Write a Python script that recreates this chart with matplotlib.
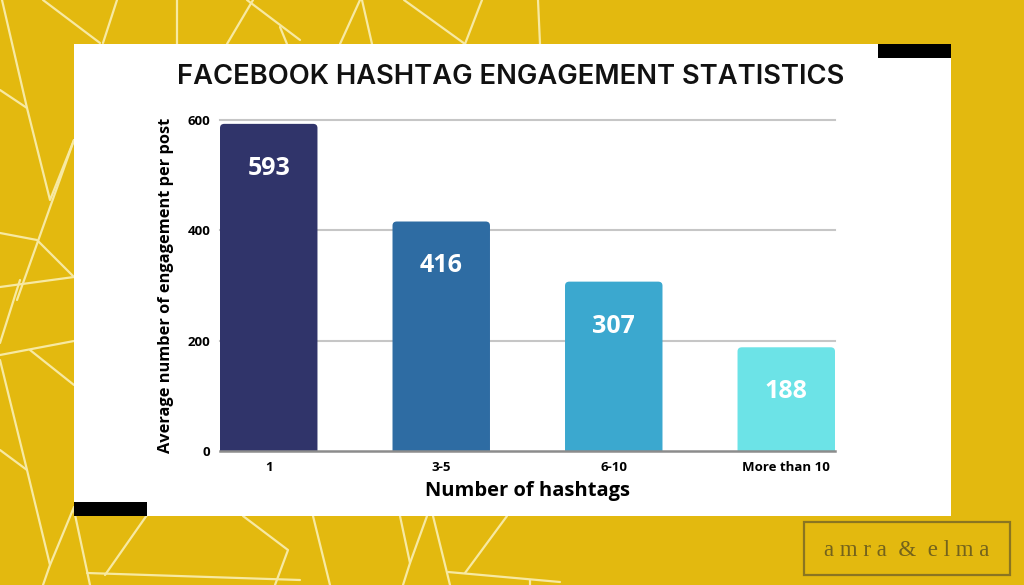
import matplotlib
matplotlib.use("Agg")
import matplotlib.pyplot as plt
from matplotlib.patches import Rectangle, FancyBboxPatch

# data
categories = ["1", "3-5", "6-10", "More than 10"]
engagement = [593, 416, 307, 188]
bar_colors = ["#30346a", "#2e6ca3", "#3ba8cf", "#6ce3e7"]
y_ticks = [0, 200, 400, 600]

title = "FACEBOOK HASHTAG ENGAGEMENT STATISTICS"
xlabel = "Number of hashtags"
ylabel = "Average number of engagement per post"

yellow = "#e3b90f"
line_col = "#f7e9a2"

# decorative background lines (pixel coords of the canvas)
bg_lines = [
    [(2, 0), (27, 108), (50, 200), (74, 140)],
    [(0, 90), (27, 108)],
    [(43, 0), (100, 43)],
    [(117, 0), (103, 43)],
    [(177, 0), (177, 44)],
    [(253, 0), (227, 44)],
    [(247, 0), (300, 40)],
    [(280, 27), (287, 44)],
    [(340, 44), (360, 0)],
    [(372, 44), (362, 0)],
    [(404, 0), (465, 44)],
    [(482, 0), (465, 44)],
    [(538, 0), (540, 44)],
    [(74, 140), (17, 300)],
    [(0, 233), (37, 240), (74, 277)],
    [(0, 287), (74, 277)],
    [(20, 280), (0, 343)],
    [(0, 355), (74, 341)],
    [(30, 350), (74, 385)],
    [(0, 360), (27, 470), (50, 565), (43, 585)],
    [(0, 450), (27, 470)],
    [(74, 507), (50, 565)],
    [(74, 510), (90, 585)],
    [(147, 515), (105, 575)],
    [(87, 573), (300, 580)],
    [(243, 516), (288, 550), (275, 585)],
    [(313, 516), (330, 585)],
    [(400, 516), (410, 563), (403, 585)],
    [(427, 516), (410, 563)],
    [(433, 516), (450, 585)],
    [(507, 516), (465, 573)],
    [(448, 572), (560, 582)],
    [(530, 580), (530, 585)],
]

fig = plt.figure(figsize=(10.24, 5.85), dpi=100)
fig.patch.set_facecolor(yellow)

bg = fig.add_axes([0, 0, 1, 1])
bg.set_xlim(0, 1024)
bg.set_ylim(585, 0)
bg.axis("off")
for seg in bg_lines:
    xs = [p[0] for p in seg]
    ys = [p[1] for p in seg]
    bg.plot(xs, ys, color=line_col, lw=1.6, solid_capstyle="round")

# white card and black accents
bg.add_patch(Rectangle((74, 44), 877, 472, facecolor="white", edgecolor="none", zorder=3))
bg.add_patch(Rectangle((878, 44), 73, 14, facecolor="black", edgecolor="none", zorder=4))
bg.add_patch(Rectangle((74, 502), 73, 14, facecolor="black", edgecolor="none", zorder=4))

# logo
bg.add_patch(Rectangle((804, 522), 206, 53, facecolor="none", edgecolor="#8a7521", lw=1.6, zorder=4))
bg.text(907, 550, "a m r a  &  e l m a", ha="center", va="center", fontsize=16.5,
        family="Liberation Serif", color="#74631c", zorder=5)

bg.text(511, 77, title, ha="center", va="center", fontsize=19.7,
        family="Inter", fontweight="semibold", color="#111111", zorder=5)

# chart
ax = fig.add_axes([220 / 1024, 1 - 451 / 585, 615 / 1024, 331 / 585])
ax.set_facecolor("none")
x = list(range(len(categories)))
w = 0.565
ax.set_xlim(-w / 2, len(categories) - 1 + w / 2)
ax.set_ylim(0, 600)

for xi, v, c in zip(x, engagement, bar_colors):
    p = FancyBboxPatch((xi - w / 2, -20), w, v + 20,
                       boxstyle="round,pad=0,rounding_size=0.025",
                       mutation_aspect=300, facecolor=c, edgecolor="none", zorder=3)
    ax.add_patch(p)
    ax.annotate(str(v), (xi, v), xytext=(0, -32), textcoords="offset points",
                ha="center", va="center", color="white", fontsize=18,
                family="Open Sans", fontweight="bold", zorder=4)

ax.set_yticks(y_ticks)
ax.set_xticks(x)
ax.set_xticklabels(categories)
for yv in y_ticks[1:]:
    ax.axhline(yv, color="#c6c6c6", lw=1.5, zorder=1, clip_on=False)
ax.axhline(0, color="#8c8c8c", lw=1.8, zorder=4, clip_on=False)
for s in ax.spines.values():
    s.set_visible(False)
ax.tick_params(length=0, labelsize=9.5, pad=7)
for lab in ax.get_xticklabels() + ax.get_yticklabels():
    lab.set_family("Open Sans")
    lab.set_fontweight("bold")
ax.set_xlabel(xlabel, fontsize=14.5, family="Open Sans", fontweight="bold", labelpad=5)
ax.set_ylabel(ylabel, fontsize=11.8, family="Open Sans", fontweight="bold", labelpad=10)

fig.savefig("out.png", dpi=100, facecolor=yellow)
